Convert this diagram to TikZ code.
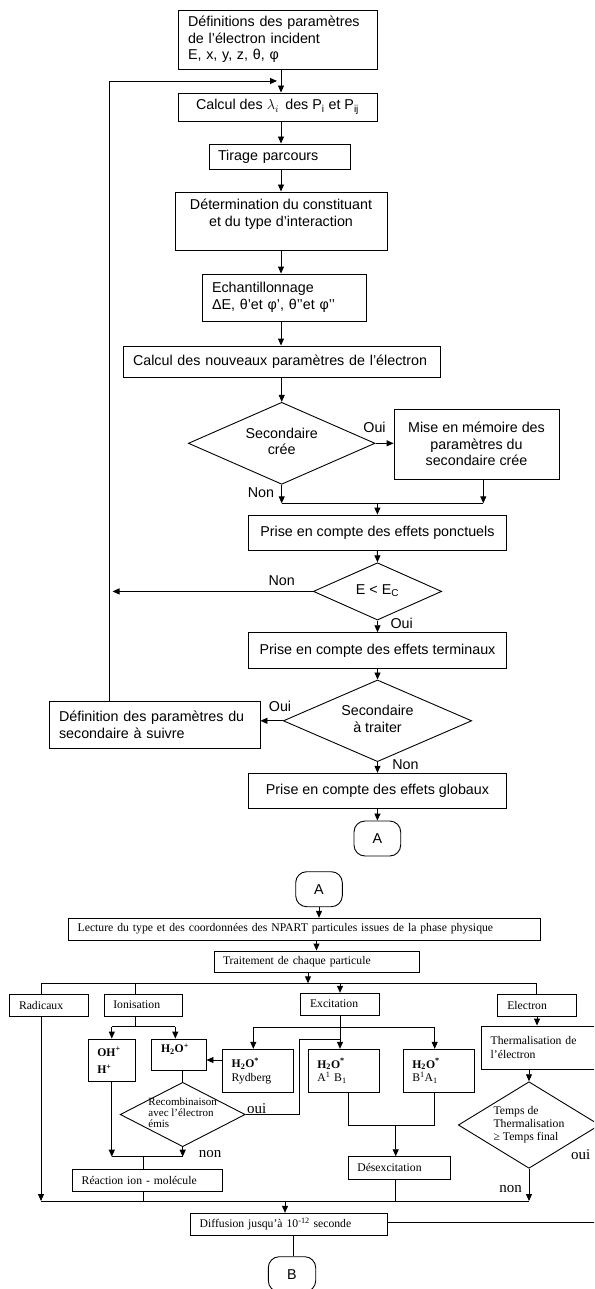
\documentclass[tikz,border=0pt]{standalone}
\usepackage{fontspec}
\setmainfont{Liberation Serif}
\setsansfont{Liberation Sans}
\usetikzlibrary{shapes.geometric,arrows.meta}
\newcommand{\dtxt}[2]{\makebox[0pt]{\begin{tabular}{@{}#1@{}}#2\end{tabular}}}
\begin{document}
\begin{tikzpicture}[x=1pt,y=-1pt,
  line width=0.9pt,
  arr/.style={-{Triangle[length=7pt,width=6pt]}},
  topfont/.style={font=\sffamily\fontsize{14.3}{16.5}\selectfont},
  botfont/.style={font=\rmfamily\fontsize{11.7}{13.7}\selectfont},
  tbox/.style={draw, rectangle, inner ysep=0pt, inner xsep=0pt, topfont, align=center},
  tlbox/.style={draw, rectangle, inner ysep=0pt, topfont, align=left},
  bbox/.style={draw, rectangle, inner ysep=0pt, botfont, align=left},
  dia/.style={draw, diamond, inner sep=0pt},
  conn/.style={draw, rectangle, rounded corners=11pt, inner sep=0pt, topfont},
  lbl/.style={topfont, inner sep=0pt},
  lblb/.style={font=\rmfamily\fontsize{15}{15}\selectfont, inner sep=0pt}
]
\useasboundingbox (0,0) rectangle (594,1289);
\clip (0,0) rectangle (594,1289);

% ---------------- top flowchart ----------------
\node[tlbox, minimum height=59pt, text width=179pt, inner xsep=10pt] (b1) at (277.5,39.5)
  {Définitions des paramètres\\de l’électron incident\\E, x, y, z, θ, φ};
\node[tbox, minimum width=199pt, minimum height=28pt] (b2) at (277.5,107)
  {Calcul des $\lambda_i$\, des P\textsubscript{i} et P\textsubscript{ij}};
\node[tlbox, minimum height=25pt, text width=123pt, inner xsep=9pt] (b3) at (279.5,156.5)
  {Tirage parcours};
\node[tbox, minimum width=212pt, minimum height=58pt] (b4) at (281,221)
  {Détermination du constituant\\et du type d’interaction\\\mbox{}};
\node[tlbox, minimum height=47pt, text width=144pt, inner xsep=10pt] (b5) at (284,297.5)
  {Echantillonnage\\ΔE, θ’et φ’, θ’’et φ’’};
\node[tlbox, minimum height=31pt, text width=297pt, inner xsep=10pt] (b6) at (281.5,361.5)
  {Calcul des nouveaux paramètres de l’électron};
\node[dia, topfont, minimum width=186.7pt, minimum height=82pt] (d1) at (281.7,443.3)
  {\dtxt{c}{Secondaire\\crée}};
\node[tbox, minimum width=165pt, minimum height=70pt] (b7) at (476.5,444)
  {Mise en mémoire des\\paramètres du\\secondaire crée};
\node[tbox, minimum width=258pt, minimum height=35.3pt] (b8) at (377.4,532.65)
  {Prise en compte des effets ponctuels};
\node[dia, topfont, minimum width=128.3pt, minimum height=57.3pt] (d2) at (377.5,591.4)
  {\dtxt{c}{E < E\textsubscript{C}}};
\node[tbox, minimum width=258.4pt, minimum height=35.6pt] (bt) at (377.5,650.5)
  {Prise en compte des effets terminaux};
\node[dia, topfont, minimum width=188.4pt, minimum height=81.7pt] (d3) at (377.5,720.8)
  {\dtxt{c}{Secondaire\\à traiter}};
\node[tlbox, minimum height=47.3pt, text width=191pt, inner xsep=10pt] (b9) at (154.5,724.65)
  {Définition des paramètres du\\secondaire à suivre};
\node[tbox, minimum width=258.4pt, minimum height=35pt] (bg) at (377.5,790.8)
  {Prise en compte des effets globaux};
\node[conn, minimum width=46.7pt, minimum height=35pt] (A1) at (377.35,838.5) {A};

\node[lbl] (l1) at (374.5,427) {Oui};
\node[lbl] (l2) at (261,493) {Non};
\node[lbl] (l3) at (281.7,580.7) {Non};
\node[lbl] (l4) at (401.7,623.3) {Oui};
\node[lbl] (l5) at (280,706.7) {Oui};
\node[lbl] (l6) at (405.5,765) {Non};

\coordinate (sp) at (281,0);
\coordinate (mg) at (0,503.3);
\coordinate (m7) at (483.3,0);
\coordinate (fb) at (109.3,81);
\coordinate (fbEnd) at (277,81);
\coordinate (fbx) at (112.5,0);

\draw[arr] (b1.south -| sp) -- (b2.north -| sp);
\draw[arr] (b2.south -| sp) -- (b3.north -| sp);
\draw[arr] (b3.south -| sp) -- (b4.north -| sp);
\draw[arr] (b4.south -| sp) -- (b5.north -| sp);
\draw[arr] (b5.south -| sp) -- (b6.north -| sp);
\draw[arr] (b6.south -| d1.north) -- (d1.north);
\draw[arr] (d1.east) -- (b7.west |- d1.east);
\draw[arr] (d1.south) -- (d1.south |- mg);
\draw[arr] (b7.south -| m7) -- (m7 |- mg);
\draw (d1.south |- mg) -- (m7 |- mg);
\draw[arr] (b8.north |- mg) -- (b8.north);
\draw[arr] (b8.south) -- (d2.north);
\draw[arr] (d2.west) -- (fbx |- d2.west);
\draw[arr] (d2.south) -- (bt.north);
\draw[arr] (bt.south) -- (d3.north);
\draw[arr] (d3.west) -- (b9.east |- d3.west);
\draw[arr] (d3.south) -- (bg.north);
\draw[arr] (bg.south) -- (A1.north);
\draw[arr] (b9.north -| fb) -- (fb) -- (fbEnd);

% ---------------- bottom flowchart ----------------
\node[conn, minimum width=46.6pt, minimum height=35pt] (A2) at (319,889.2) {A};
\node[bbox, minimum height=21.7pt, text width=453.6pt, inner xsep=9.4pt] (L) at (304.5,929.15)
  {Lecture du type et des coordonnées des NPART particules issues de la phase physique};
\node[bbox, minimum height=21.7pt, text width=187pt, inner xsep=9pt] (T) at (316.5,961.85)
  {Traitement de chaque particule};
\node[bbox, minimum height=21.7pt, text width=59.6pt, inner xsep=9.7pt] (Rad) at (48.8,1005.15) {Radicaux};
\node[bbox, minimum height=21.7pt, text width=60.1pt, inner xsep=9.3pt] (Ion) at (143.35,1005.15) {Ionisation};
\node[bbox, minimum height=21.7pt, text width=60pt, inner xsep=9.3pt] (Exc) at (340,1004.15) {Excitation};
\node[bbox, minimum height=21.7pt, text width=59.4pt, inner xsep=10pt] (Ele) at (537,1005.15) {Electron};
\node[bbox, minimum height=42.7pt, text width=29pt, inner xsep=9pt] (OH) at (111.8,1060.35)
  {\textbf{OH\textsuperscript{+}}\\[4pt]\textbf{H\textsuperscript{+}}};
\node[bbox, minimum height=31.7pt, text width=35.7pt, inner xsep=9.3pt] (H2Op) at (178.85,1054.85)
  {\textbf{H\textsubscript{2}O\textsuperscript{+}}\\\mbox{}};
\node[bbox, minimum height=43pt, text width=52.2pt, inner xsep=9.4pt] (Ryd) at (257.8,1070.8)
  {\textbf{H\textsubscript{2}O\textsuperscript{*}}\\Rydberg};
\node[bbox, minimum height=43.4pt, text width=53.4pt, inner xsep=9pt] (AB) at (344,1071)
  {\textbf{H\textsubscript{2}O\textsuperscript{*}}\\A\textsuperscript{1} B\textsubscript{1}};
\node[bbox, minimum height=43.4pt, text width=52.7pt, inner xsep=9pt] (BA) at (438.65,1071)
  {\textbf{H\textsubscript{2}O\textsuperscript{*}}\\B\textsuperscript{1}A\textsubscript{1}};
\node[dia, font=\rmfamily\fontsize{11}{11}\selectfont, minimum width=125pt, minimum height=64.4pt] (Rec) at (182.7,1114.5)
  {\dtxt{l}{Recombinaison\\avec l’électron\\émis}};
\node[bbox, minimum height=21.7pt, text width=131.2pt, inner xsep=9.4pt] (Reac) at (147.3,1180.15)
  {Réaction ion - molécule};
\node[bbox, minimum height=22.3pt, text width=83.4pt, inner xsep=9.3pt] (Desex) at (399,1167.85)
  {Désexcitation};
\node[bbox, minimum height=43.3pt, text width=120.3pt, inner xsep=9pt] (Therm) at (550.85,1047.65)
  {Thermalisation de\\l’électron};
\node[dia, font=\rmfamily\fontsize{11.7}{13.3}\selectfont, minimum width=141.4pt, minimum height=86.6pt] (Tmp) at (529,1125)
  {\dtxt{l}{Temps de\\Thermalisation\\≥ Temps final}};
\node[bbox, minimum height=21.7pt, text width=178.6pt, inner xsep=9pt] (Diff) at (289,1224.15)
  {Diffusion jusqu’à 10\textsuperscript{-12} seconde};
\node[conn, minimum width=47.4pt, minimum height=35pt] (B) at (292,1274.2) {B};

\node[lblb] (l7) at (256.7,1108.3) {oui};
\node[lblb] (l8) at (210,1154) {non};
\node[lblb] (l9) at (580.7,1155) {oui};
\node[lblb] (l10) at (510.7,1189.3) {non};

\coordinate (bus1) at (0,983.3);
\coordinate (bus2) at (0,1201);
\coordinate (tArr) at (308,0);
\coordinate (xR) at (41,0);
\coordinate (xI) at (135.3,0);
\coordinate (xE) at (536.7,0);
\coordinate (xH) at (175.3,0);
\coordinate (xRy) at (253.3,0);
\coordinate (xB) at (434.7,0);
\coordinate (xo) at (299,0);
\coordinate (xRe) at (143.3,0);
\coordinate (xA) at (348,0);
\coordinate (xB2) at (434.3,0);
\coordinate (xD) at (395.7,0);
\coordinate (xDf) at (285,0);
\coordinate (xDb) at (293.3,0);
\coordinate (f1) at (0,1026.7);
\coordinate (f2) at (0,1027.3);
\coordinate (f3) at (0,1156.7);
\coordinate (f4) at (0,1125.7);
\coordinate (yR) at (0,1060);
\coordinate (yo) at (0,1039);
\coordinate (dOut) at (600,1222.7);

\draw[arr] (A2.south) -- (A2.south |- L.north);
\draw[arr] (T.north |- L.south) -- (T.north);
\draw[arr] (T.south -| tArr) -- (tArr |- bus1);
\draw (Rad.north -| xR) -- (xR |- bus1) -- (xE |- bus1) -- (Ele.north -| xE);
\draw (xI |- bus1) -- (Ion.north -| xI);
\draw[arr] (Exc.north |- bus1) -- (Exc.north);
% ionisation
\draw (Ion.south -| xI) -- (xI |- f1);
\draw (OH.north |- f1) -- (xH |- f1);
\draw[arr] (OH.north |- f1) -- (OH.north);
\draw[arr] (xH |- f1) -- (xH |- H2Op.north);
% excitation
\draw[arr] (Exc.south) -- (Exc.south |- AB.north);
\draw (xRy |- f2) -- (xB |- f2);
\draw[arr] (xRy |- f2) -- (xRy |- Ryd.north);
\draw[arr] (xB |- f2) -- (xB |- BA.north);
\draw[arr] (Ryd.west |- yR) -- (H2Op.east |- yR);
\draw (Rec.north |- H2Op.south) -- (Rec.north);
\draw (Rec.east) -- (xo |- Rec.east) -- (xo |- yo) -- (Exc.south |- yo);
\draw[arr] (Rec.south) -- (Rec.south |- f3);
\draw[arr] (OH.south) -- (OH.south |- f3);
\draw (OH.south |- f3) -- (Rec.south |- f3);
\draw (xRe |- f3) -- (Reac.north -| xRe);
\draw (Reac.south -| xRe) -- (xRe |- bus2);
\draw (AB.south -| xA) -- (xA |- f4) -- (xB2 |- f4) -- (BA.south -| xB2);
\draw[arr] (xD |- f4) -- (Desex.north -| xD);
\draw (Desex.south -| xD) -- (xD |- bus2);
% electron
\draw[arr] (Ele.south) -- (Ele.south |- Therm.north);
\draw[arr] (Therm.south -| Tmp.north) -- (Tmp.north);
\draw[arr] (Tmp.south) -- (Tmp.south |- bus2);
% radicaux and bus 2
\draw[arr] (Rad.south -| xR) -- (xR |- bus2);
\draw (xR |- bus2) -- (Tmp.south |- bus2);
\draw[arr] (xDf |- bus2) -- (xDf |- Diff.north);
\draw (Diff.east |- dOut) -- (dOut);
\draw (Diff.south -| xDb) -- (B.north -| xDb);
\end{tikzpicture}
\end{document}
